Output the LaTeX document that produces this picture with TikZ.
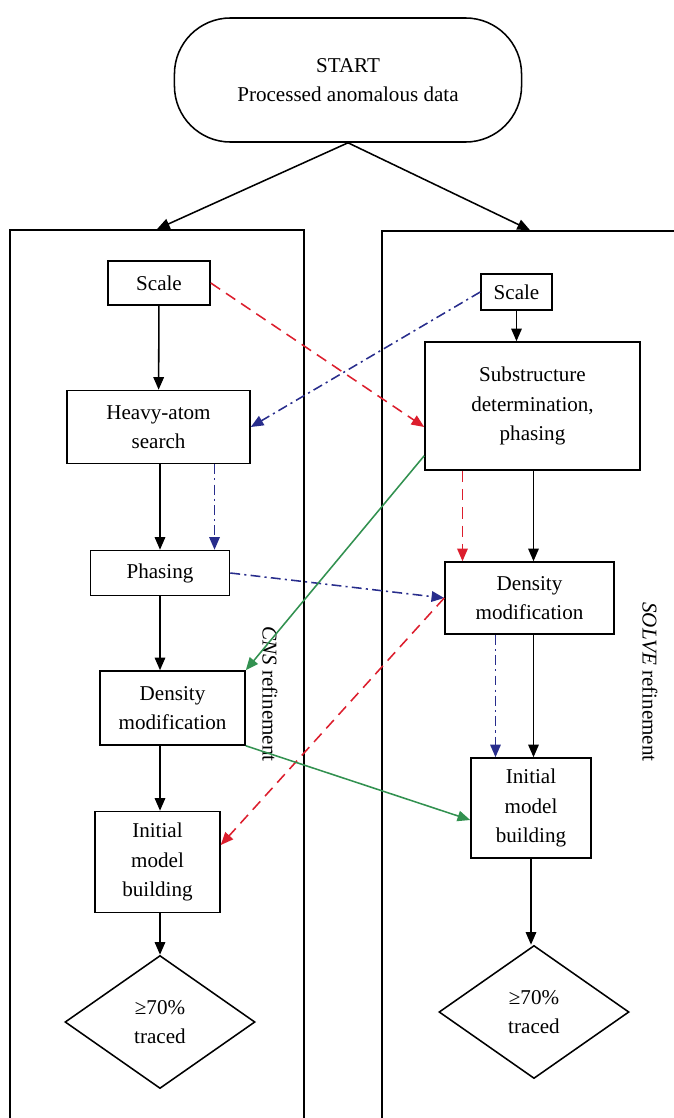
\documentclass[tikz,border=0pt]{standalone}
\usepackage{fontspec}
\setmainfont{Liberation Serif}
\usetikzlibrary{arrows.meta,shapes.geometric}
\definecolor{dashred}{RGB}{220,30,45}
\definecolor{dotblue}{RGB}{40,45,140}
\definecolor{flowgreen}{RGB}{50,145,80}

\begin{document}
\begin{tikzpicture}[x=0.025cm,y=-0.025cm,
  font=\fontsize{15}{21}\selectfont,
  line width=1.1pt,>={Triangle[length=9pt,width=7.5pt]},
  box/.style={draw,rectangle,align=center,inner sep=0pt},
  test/.style={draw,diamond,align=center,inner sep=0pt,
    minimum width=4.75cm,minimum height=3.325cm},
  panel/.style={draw,rectangle,minimum height=22.75cm},
  redline/.style={dashred,dash pattern=on 8pt off 5pt},
  blueline/.style={dotblue,dash pattern=on 7pt off 3pt on 1.5pt off 3pt},
  greenline/.style={flowgreen}]
  \useasboundingbox (0,0) rectangle (673,1118);
  \node[draw,rounded corners=1.4cm,minimum width=8.675cm,minimum height=3.1cm,
    align=center] (start) at (348,80) {START\\Processed anomalous data};
  \node[panel,minimum width=7.35cm] (cns) at (157,685) {};
  \node[panel,minimum width=7.4cm] (solve) at (530,686) {};
  \node[rotate=-90] (cnslabel) at (270,694) {\textit{CNS} refinement};
  \node[rotate=-90] (solvelabel) at (650,682) {\textit{SOLVE} refinement};

  \node[box,minimum width=2.55cm,minimum height=1.1cm] (lscale) at (159,283) {Scale};
  \node[box,minimum width=4.575cm,minimum height=1.825cm] (hsearch) at (158.5,427) {Heavy-atom\\search};
  \node[box,minimum width=3.475cm,minimum height=1.125cm] (phase) at (160,573) {Phasing};
  \node[box,minimum width=3.625cm,minimum height=1.85cm] (ldens) at (172.5,708) {Density\\modification};
  \node[box,minimum width=3.125cm,minimum height=2.525cm] (linit) at (157.5,862) {Initial\\model\\building};
  \node[test] (ltest) at (160,1022) {≥70\%\\traced};

  \node[box,minimum width=1.775cm,minimum height=0.9cm] (rscale) at (516.5,292) {Scale};
  \node[box,minimum width=5.375cm,minimum height=3.2cm] (subst) at (532.5,406) {Substructure\\determination,\\phasing};
  \node[box,minimum width=4.225cm,minimum height=1.8cm] (rdens) at (529.5,598) {Density\\modification};
  \node[box,minimum width=3cm,minimum height=2.5cm] (rinit) at (531,808) {Initial\\model\\building};
  \node[test] (rtest) at (534,1012) {≥70\%\\traced};

  \draw[->] (start.south) -- (cns.north);
  \draw[->] (start.south) -- (solve.north);
  \draw[->] (lscale) -- (hsearch);
  \draw[->] (phase.north |- hsearch.south) -- (phase.north);
  \draw[->] (phase.south) -- (phase.south |- ldens.north);
  \draw[->] (ltest.north |- ldens.south) -- (ltest.north |- linit.north);
  \draw[->] (ltest.north |- linit.south) -- (ltest.north);
  \draw[->] (rscale.south) -- (rscale.south |- subst.north);
  \draw[->] ([xshift=0.1cm]rdens.north |- subst.south) -- ([xshift=0.1cm]rdens.north);
  \draw[->] ([xshift=0.1cm]rdens.south) -- ([xshift=0.1cm]rdens.south |- rinit.north);
  \draw[->] (rinit.south) -- (rinit.south |- rtest.north);

  \draw[->,redline] (lscale.east) -- (subst.west |- hsearch);
  \draw[->,blueline] (rscale.west) -- (hsearch.east);
  \draw[->,blueline] ([xshift=1.4cm]hsearch.south) -- ([xshift=1.4cm]hsearch.south |- phase.north);
  \draw[->,redline] ([xshift=-1.75cm]subst.south) -- ([xshift=-1.75cm]subst.south |- rdens.north);
  \draw[->,blueline] (phase.east) -- (rdens.west);
  \draw[->,greenline] ([yshift=0.375cm]subst.south west) -- (ldens.north east);
  \draw[->,redline] (rdens.west) -- ([yshift=0.425cm]linit.east);
  \draw[->,greenline] (ldens.south east) -- ([yshift=-0.3cm]rinit.west);
  \draw[->,blueline] ([xshift=-0.85cm]rdens.south) -- ([xshift=-0.85cm]rdens.south |- rinit.north);
\end{tikzpicture}
\end{document}
